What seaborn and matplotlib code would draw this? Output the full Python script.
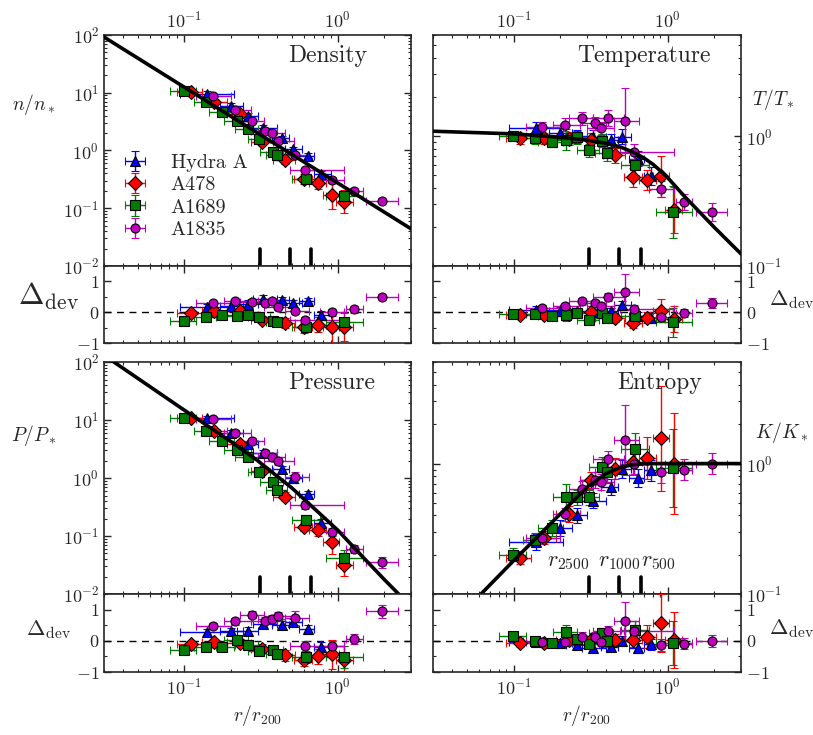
import numpy as np
import matplotlib
matplotlib.use("Agg")
import matplotlib.pyplot as plt
from matplotlib.ticker import MultipleLocator, NullFormatter
import seaborn as sns

# ---- data ----
# Hydra A
r_hydra = [0.14, 0.20, 0.26, 0.326, 0.43, 0.51, 0.64, 0.78]
r_hydra_lo = [0.094, 0.17, 0.22, 0.28, 0.37, 0.45, 0.56, 0.70]
r_hydra_hi = [0.21, 0.24, 0.30, 0.40, 0.48, 0.58, 0.70, 0.90]
n_hydra = [9.4, 6.0, 3.9, 2.5, 1.63, 1.05, 0.81, 0.39]
T_hydra = [1.15, 1.05, 1.0, 0.99, 0.93, 0.99, 0.67, 0.49]
P_hydra = [10.9, 6.0, 3.8, 2.7, 1.43, 1.0, 0.53, 0.17]
K_hydra = [0.25, 0.32, 0.40, 0.52, 0.66, 0.91, 0.78, 0.89]
en_hydra = [0.05, 0.05, 0.05, 0.05, 0.04, 0.04, 0.04, 0.05]
eT_hydra = [0.05, 0.05, 0.05, 0.05, 0.05, 0.06, 0.06, 0.07]
eP_hydra = [0.04, 0.05, 0.05, 0.05, 0.05, 0.05, 0.06, 0.07]
eK_hydra = [0.06, 0.06, 0.06, 0.06, 0.06, 0.07, 0.07, 0.08]
dn_hydra = [0.16, 0.20, 0.27, 0.43, 0.40, 0.29, 0.38, -0.08]
dT_hydra = [0.08, 0.05, 0.03, 0.0, 0.03, 0.22, -0.12, -0.20]
dP_hydra = [0.29, 0.30, 0.33, 0.53, 0.51, 0.59, 0.37, -0.20]
dK_hydra = [-0.03, -0.08, -0.14, -0.22, -0.20, 0.0, -0.22, -0.11]

# A478
r_a478 = [0.11, 0.157, 0.23, 0.32, 0.455, 0.60, 0.74, 0.91, 1.1]
r_a478_lo = [0.09, 0.13, 0.19, 0.27, 0.38, 0.52, 0.65, 0.80, 0.97]
r_a478_hi = [0.13, 0.19, 0.27, 0.38, 0.53, 0.68, 0.84, 1.02, 1.25]
n_a478 = [10.5, 7.0, 4.2, 1.42, 0.685, 0.32, 0.27, 0.17, 0.13]
T_a478 = [0.96, 0.96, 0.95, 0.94, 0.71, 0.48, 0.46, 0.49, 0.27]
P_a478 = [11.0, 6.4, 3.9, 1.34, 0.48, 0.145, 0.126, 0.079, 0.032]
K_a478 = [0.19, 0.27, 0.41, 0.75, 0.91, 1.03, 1.10, 1.56, 1.0]
en_a478 = [0.03, 0.03, 0.04, 0.05, 0.07, 0.08, 0.10, 0.25, 0.20]
eT_a478 = [0.04, 0.04, 0.05, 0.05, 0.06, 0.07, 0.08, 0.16, 0.18]
eP_a478 = [0.04, 0.04, 0.05, 0.06, 0.07, 0.08, 0.10, 0.20, 0.20]
eK_a478 = [0.05, 0.05, 0.06, 0.06, 0.08, 0.10, 0.16, 0.40, 0.39]
dn_a478 = [-0.03, 0.03, 0.03, -0.25, -0.36, -0.49, -0.40, -0.49, -0.49]
dT_a478 = [-0.08, -0.08, -0.05, 0.0, -0.18, -0.36, -0.18, 0.05, -0.22]
dP_a478 = [-0.09, -0.05, -0.07, -0.25, -0.47, -0.63, -0.50, -0.43, -0.63]
dK_a478 = [-0.07, -0.07, 0.02, 0.02, 0.02, 0.02, 0.13, 0.57, 0.02]

# A1689
r_a1689 = [0.099, 0.138, 0.177, 0.219, 0.258, 0.307, 0.378, 0.404, 0.617, 1.09]
r_a1689_lo = [0.081, 0.115, 0.145, 0.18, 0.215, 0.26, 0.31, 0.34, 0.50, 0.84]
r_a1689_hi = [0.12, 0.16, 0.21, 0.26, 0.30, 0.36, 0.44, 0.47, 0.76, 1.45]
n_a1689 = [10.7, 7.0, 4.7, 3.3, 2.4, 1.6, 0.95, 0.84, 0.32, 0.165]
T_a1689 = [1.0, 0.96, 0.90, 0.94, 0.98, 0.78, 0.92, 0.74, 0.60, 0.26]
P_a1689 = [10.9, 6.6, 4.3, 3.06, 2.34, 1.26, 0.86, 0.63, 0.19, 0.041]
K_a1689 = [0.20, 0.26, 0.32, 0.55, 0.55, 0.55, 0.94, 0.86, 1.29, 0.93]
en_a1689 = [0.03, 0.03, 0.03, 0.03, 0.03, 0.03, 0.03, 0.03, 0.05, 0.06]
eT_a1689 = [0.04, 0.04, 0.04, 0.08, 0.05, 0.05, 0.05, 0.06, 0.08, 0.20]
eP_a1689 = [0.04, 0.04, 0.04, 0.06, 0.05, 0.05, 0.05, 0.06, 0.08, 0.15]
eK_a1689 = [0.05, 0.05, 0.06, 0.10, 0.06, 0.06, 0.08, 0.08, 0.12, 0.30]
dn_a1689 = [-0.27, -0.16, -0.08, -0.11, -0.08, -0.16, -0.29, -0.33, -0.47, -0.33]
dT_a1689 = [-0.05, -0.05, -0.13, -0.09, -0.03, -0.24, -0.03, -0.18, -0.11, -0.33]
dP_a1689 = [-0.30, -0.20, -0.20, 0.04, -0.12, -0.34, -0.30, -0.43, -0.52, -0.52]
dK_a1689 = [0.16, 0.0, -0.07, 0.29, 0.05, -0.09, 0.24, 0.0, 0.35, -0.07]

# A1835
r_a1835 = [0.154, 0.215, 0.277, 0.336, 0.37, 0.41, 0.53, 0.61, 0.91, 1.28, 1.95]
r_a1835_lo = [0.12, 0.18, 0.23, 0.27, 0.30, 0.33, 0.45, 0.49, 0.76, 1.13, 1.53]
r_a1835_hi = [0.20, 0.27, 0.33, 0.40, 0.45, 0.52, 0.65, 1.10, 1.10, 1.45, 2.45]
n_a1835 = [8.8, 5.0, 3.2, 2.2, 1.98, 1.46, 0.84, 0.46, 0.31, 0.20, 0.135]
T_a1835 = [1.18, 1.22, 1.37, 1.25, 1.15, 1.38, 1.31, 0.76, 0.39, 0.31, 0.26]
P_a1835 = [10.5, 6.0, 4.3, 2.7, 2.3, 1.95, 1.03, 0.34, 0.117, 0.06, 0.035]
K_a1835 = [0.27, 0.41, 0.64, 0.75, 0.72, 1.09, 1.51, 1.0, 0.86, 0.90, 1.0]
en_a1835 = [0.03, 0.03, 0.03, 0.03, 0.03, 0.03, 0.04, 0.04, 0.05, 0.05, 0.04]
eT_a1835 = [0.04, 0.05, 0.05, 0.05, 0.05, 0.06, 0.25, 0.06, 0.06, 0.06, 0.07]
eP_a1835 = [0.04, 0.05, 0.05, 0.05, 0.05, 0.06, 0.10, 0.07, 0.07, 0.07, 0.09]
eK_a1835 = [0.05, 0.05, 0.06, 0.06, 0.06, 0.06, 0.27, 0.08, 0.08, 0.08, 0.08]
dn_a1835 = [0.29, 0.36, 0.33, 0.29, 0.38, 0.18, 0.03, -0.25, 0.0, 0.09, 0.49]
dT_a1835 = [0.13, 0.20, 0.36, 0.29, 0.20, 0.49, 0.65, 0.11, -0.14, -0.03, 0.31]
dP_a1835 = [0.49, 0.62, 0.84, 0.65, 0.70, 0.78, 0.73, -0.17, -0.17, 0.05, 0.95]
dK_a1835 = [-0.05, -0.03, 0.13, 0.13, -0.03, 0.33, 0.62, 0.33, -0.14, -0.09, 0.0]

# model curves (nodes)
r_mod_n = [0.03, 3.0]
n_mod = [92.0, 0.044]
r_mod_T = [0.03, 0.1, 0.2, 0.3, 0.4, 0.5, 0.6, 0.7, 0.8, 0.9, 1.0, 1.3, 2.0, 3.0]
T_mod = [1.09, 1.04, 0.98, 0.93, 0.88, 0.82, 0.75, 0.68, 0.61, 0.54, 0.48, 0.34, 0.20, 0.124]
r_mod_P = [0.03, 0.1, 0.2, 0.3, 0.5, 0.7, 1.0, 1.5, 2.0, 2.6]
P_mod = [131.0, 14.8, 4.3, 2.0, 0.68, 0.30, 0.126, 0.040, 0.018, 0.0089]
r_mod_K = [0.03, 0.06, 0.1, 0.18, 0.3, 0.4, 0.5, 0.6, 0.7, 0.8, 1.0, 3.0]
K_mod = [0.043, 0.097, 0.18, 0.36, 0.66, 0.84, 0.94, 0.98, 0.995, 1.0, 1.0, 1.0]

# characteristic radii r2500, r1000, r500
r_delta = [0.31, 0.485, 0.67]
r_delta_labels = [r'$r_{2500}$', r'$r_{1000}$', r'$r_{500}$']

cluster_names = ['Hydra A', 'A478', 'A1689', 'A1835']
cluster_colors = ['#0000ff', '#ff0000', '#007a00', '#bf00bf']
cluster_markers = ['^', 'D', 's', 'o']

sns.set_style('ticks')
plt.rcParams['font.family'] = 'serif'
plt.rcParams['font.serif'] = ['cmr10', 'DejaVu Serif']
plt.rcParams['mathtext.fontset'] = 'cm'
plt.rcParams['axes.formatter.use_mathtext'] = True
plt.rcParams['axes.unicode_minus'] = True

clusters = [
    dict(r=r_hydra, lo=r_hydra_lo, hi=r_hydra_hi,
         n=(n_hydra, en_hydra, dn_hydra), T=(T_hydra, eT_hydra, dT_hydra),
         P=(P_hydra, eP_hydra, dP_hydra), K=(K_hydra, eK_hydra, dK_hydra)),
    dict(r=r_a478, lo=r_a478_lo, hi=r_a478_hi,
         n=(n_a478, en_a478, dn_a478), T=(T_a478, eT_a478, dT_a478),
         P=(P_a478, eP_a478, dP_a478), K=(K_a478, eK_a478, dK_a478)),
    dict(r=r_a1689, lo=r_a1689_lo, hi=r_a1689_hi,
         n=(n_a1689, en_a1689, dn_a1689), T=(T_a1689, eT_a1689, dT_a1689),
         P=(P_a1689, eP_a1689, dP_a1689), K=(K_a1689, eK_a1689, dK_a1689)),
    dict(r=r_a1835, lo=r_a1835_lo, hi=r_a1835_hi,
         n=(n_a1835, en_a1835, dn_a1835), T=(T_a1835, eT_a1835, dT_a1835),
         P=(P_a1835, eP_a1835, dP_a1835), K=(K_a1835, eK_a1835, dK_a1835)),
]

fig = plt.figure(figsize=(8.13, 7.35), dpi=100)

colx = [0.128, 0.5326]
colw = [0.3776, 0.3788]
rows = [(0.6381, 0.3143, 0.5333, 0.1048), (0.1918, 0.3156, 0.0857, 0.1061)]

# key, row, col, title, title x, ylabel, ylabel pos, model, ylim
panels = [
    ('n', 0, 0, 'Density', 0.73, r'$n/n_*$', (-0.23, 0.70), (r_mod_n, n_mod), (1e-2, 1e2)),
    ('T', 0, 1, 'Temperature', 0.685, r'$T/T_*$', (1.105, 0.72), (r_mod_T, T_mod), (0.1, 6.0)),
    ('P', 1, 0, 'Pressure', 0.74, r'$P/P_*$', (-0.23, 0.685), (r_mod_P, P_mod), (1e-2, 1e2)),
    ('K', 1, 1, 'Entropy', 0.737, r'$K/K_*$', (1.133, 0.695), (r_mod_K, K_mod), (0.1, 6.0)),
]

for key, row, col, title, tx, ylab, ypos, model, ylim in panels:
    mb, mh, rb, rh = rows[row]
    ax = fig.add_axes([colx[col], mb, colw[col], mh])
    axr = fig.add_axes([colx[col], rb, colw[col], rh], sharex=ax)

    sns.lineplot(x=model[0], y=model[1], ax=ax, color='k', lw=2.6,
                 estimator=None, sort=False, zorder=5)
    axr.axhline(0, color='k', ls='--', lw=1.0, dashes=(5, 4), zorder=1)

    handles = []
    for c, name, colr, mk in zip(clusters, cluster_names, cluster_colors, cluster_markers):
        r = np.array(c['r'])
        xerr = [r - np.array(c['lo']), np.array(c['hi']) - r]
        v, e, d = (np.array(a) for a in c[key])
        yerr = [v - v * 10 ** (-e), v * 10 ** e - v]
        ms = 7 if mk == 'D' else 6.5
        h = ax.errorbar(r, v, xerr=xerr, yerr=yerr, fmt=mk, color=colr, mfc=colr,
                        mec='k', mew=0.8, ms=ms, ecolor=colr, elinewidth=1.0,
                        capsize=3.2, capthick=1.0, label=name, zorder=3)
        axr.errorbar(r, d, xerr=xerr, yerr=e * np.log(10), fmt=mk, color=colr,
                     mfc=colr, mec='k', mew=0.8, ms=ms, ecolor=colr,
                     elinewidth=1.0, capsize=3.2, capthick=1.0, zorder=3)
        handles.append(h)

    for rd in r_delta:
        ax.axvline(rd, ymin=0, ymax=0.075, color='k', lw=2.6, zorder=6)

    ax.set_xscale('log')
    ax.set_yscale('log')
    ax.set_xlim(0.03, 3)
    ax.set_ylim(*ylim)
    axr.set_ylim(-1, 1.5)
    axr.yaxis.set_major_locator(MultipleLocator(1))
    axr.yaxis.set_minor_locator(MultipleLocator(0.5))

    for a in (ax, axr):
        a.tick_params(which='both', direction='in', top=True, right=True,
                      labelsize=13)
        a.tick_params(which='major', length=5, width=1.0)
        a.tick_params(which='minor', length=2.5, width=0.8)
        for s in a.spines.values():
            s.set_linewidth(1.2)

    if row == 0:
        ax.tick_params(axis='x', which='both', labeltop=True, labelbottom=False)
        axr.tick_params(axis='x', which='both', labelbottom=False)
    else:
        ax.tick_params(axis='x', which='both', labelbottom=False)
        axr.set_xlabel(r'$r/r_{200}$', fontsize=14)
    if col == 1:
        ax.tick_params(axis='y', which='both', labelleft=False, labelright=True)
        axr.tick_params(axis='y', which='both', labelleft=False, labelright=True)
    ax.yaxis.set_minor_formatter(NullFormatter())
    ax.xaxis.set_minor_formatter(NullFormatter())

    ax.text(tx, 0.91, title, transform=ax.transAxes, ha='center', va='center',
            fontsize=17)
    ax.text(ypos[0], ypos[1], ylab, transform=ax.transAxes,
            ha='center', va='center', fontsize=14)
    if col == 0:
        axr.text(-0.18, 0.6 if row == 0 else 0.54, r'$\Delta_{\rm dev}$',
                 transform=axr.transAxes, ha='center', va='center',
                 fontsize=22 if row == 0 else 16)
    else:
        axr.text(1.165, 0.56, r'$\Delta_{\rm dev}$', transform=axr.transAxes,
                 ha='center', va='center', fontsize=16)

    if key == 'n':
        ax.legend(handles=handles, loc='upper left', bbox_to_anchor=(0.0, 0.545),
                  frameon=False, fontsize=14.5, handlelength=1.7,
                  handletextpad=0.9, labelspacing=0.2, borderaxespad=0.3)
    if key == 'K':
        for rd, lab, ha in zip(r_delta, r_delta_labels, ['right', 'center', 'left']):
            ax.text(rd, 0.095, lab, transform=ax.get_xaxis_transform(),
                    ha=ha, va='bottom', fontsize=16)

fig.savefig('out.png', dpi=100)
